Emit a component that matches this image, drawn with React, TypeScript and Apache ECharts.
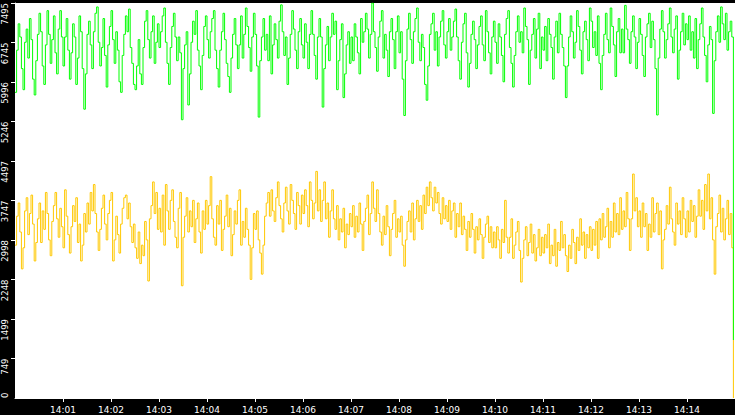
import React, { useEffect, useRef } from "react";
import * as echarts from "echarts";

// Sampling: one point every 2 seconds from 14:00:00 to 14:14:58
const startTime = Date.UTC(2024, 0, 1, 14, 0, 0);
const endTime = Date.UTC(2024, 0, 1, 14, 15, 0);
const sampleMs = 2000;

const yMax = 7495;
const yInterval = 749.5;

const greenValues = [
  5800, 6600, 7100, 6850, 6250, 5850, 6750, 7000, 6450, 7200, 6800, 6050, 5750, 6400, 6900, 7300, 6950, 6300, 5950, 6700, 7350, 6900, 6350, 6800, 7250, 6550, 6150, 7000, 7350, 6850,
  6300, 6850, 7200, 6600, 6050, 6550, 7100, 6850, 5950, 6450, 7250, 6950, 6250, 5480, 6150, 6900, 7150, 6700, 6250, 6950, 7300, 7420, 6750, 6300, 6650, 7200, 6500, 5900, 6700, 7050,
  7350, 6800, 6350, 6950, 6600, 6000, 5800, 6500, 6900, 7250, 6950, 7380, 6650, 6350, 5950, 5850, 6300, 6800, 6150, 5950, 6650, 7150, 7350, 6800, 6450, 6950, 7250, 6350, 6750, 7100,
  6650, 6950, 7250, 7400, 6750, 6350, 5950, 6650, 7050, 7300, 6850, 6400, 6850, 6550, 5280, 6250, 6700, 6950, 5560, 6150, 6750, 7150, 6900, 7350, 6600, 6300, 5850, 6500, 7050, 7250,
  6800, 6450, 6950, 7200, 7350, 6600, 6250, 5900, 6600, 6950, 7300, 6800, 6350, 6100, 5800, 6450, 6900, 7200, 6700, 6250, 6700, 7250, 6450, 6900, 7400, 7050, 6650, 6200, 6850, 7300,
  6900, 6300, 5330, 6400, 6850, 7200, 6600, 6900, 6400, 7250, 6150, 6700, 7100, 6800, 6450, 7150, 7460, 6950, 6500, 6850, 5950, 6450, 6900, 7350, 7000, 6600, 6250, 6950, 7200, 6700,
  6450, 7100, 6750, 6250, 6900, 7350, 6900, 6500, 6050, 6850, 7200, 6850, 5520, 6250, 6700, 7050, 6400, 6850, 7300, 6900, 7150, 5850, 6400, 6800, 7100, 5700, 6150, 6700, 6950, 6350,
  6850, 6400, 7100, 6850, 6550, 6150, 7200, 6750, 6950, 7300, 7000, 6450, 6900, 7495, 6950, 6650, 6200, 6850, 7150, 7350, 6450, 6900, 6600, 6100, 6950, 7200, 6800, 6250, 6950, 7250,
  6550, 6950, 6050, 5360, 6400, 7000, 7300, 6800, 6350, 6950, 7200, 7400, 6750, 6400, 6900, 6650, 5950, 5650, 6300, 6900, 7100, 7300, 6600, 6950, 6300, 6850, 7150, 7350, 6700, 6450,
  6950, 7200, 6600, 6850, 7150, 7380, 6850, 6400, 6050, 6750, 7100, 7300, 6550, 5900, 6350, 6900, 7150, 6800, 6250, 6700, 7050, 7250, 6700, 6400, 7350, 6950, 6550, 6150, 6850, 7150,
  6750, 6350, 7100, 6850, 6500, 6000, 6900, 7200, 7350, 6650, 6350, 5900, 6500, 6950, 7250, 6750, 6950, 6550, 7400, 7050, 6800, 5950, 6600, 6900, 7200, 6450, 7000, 7300, 6250, 6850,
  6600, 7050, 6400, 7200, 6900, 6650, 6050, 6850, 7150, 6550, 7300, 6900, 6650, 6300, 5700, 6300, 6850, 7250, 6950, 6450, 6750, 7350, 7050, 6600, 6150, 6950, 7150, 6800, 6400, 7400,
  7150, 6650, 6950, 6500, 7250, 6350, 5850, 6500, 6900, 7300, 6800, 6550, 7400, 7050, 6700, 6100, 6950, 7200, 6550, 7000, 6550, 7450, 7000, 6800, 6350, 6950, 7250, 6850, 6250, 6750,
  7200, 6900, 6500, 6100, 6850, 7100, 7300, 6650, 7150, 6800, 6250, 5370, 6450, 7000, 7350, 6950, 6450, 6800, 7100, 7400, 6850, 6550, 7000, 7250, 6050, 6600, 6950, 7300, 6700, 7100,
  6800, 7250, 6600, 6950, 6450, 7200, 6250, 6800, 7100, 7400, 6850, 6500, 6000, 6700, 7050, 6800, 5400, 6400, 6950, 7250, 6750, 7420, 7100, 6800, 7300, 6600, 6950, 7150, 6850, 1100,
];

const yellowValues = [
  2900, 3450, 3700, 3150, 2450, 2850, 3550, 3800, 3100, 3500, 3850, 3300, 2600, 2950, 3400, 3700, 2950, 3550, 3200, 3900, 3500, 3000, 2700, 3350, 3650, 3900, 3400, 3050, 3600, 3250,
  2850, 3950, 3450, 3100, 2750, 3250, 3650, 3350, 3800, 2950, 3300, 2600, 2900, 3500, 3150, 3700, 3300, 3900, 3550, 4050, 3500, 3150, 2800, 3200, 3600, 3850, 3300, 3000, 3500, 3750,
  3900, 2600, 3000, 3450, 3100, 2750, 3300, 3600, 3800, 3850, 3400, 3700, 3250, 2950, 3300, 2850, 2650, 3150, 2550, 2900, 2700, 3350, 3000, 2220, 3400, 3650, 4100, 3500, 3900, 3200,
  3600, 3150, 3850, 2900, 4050, 3550, 3200, 3750, 3950, 3350, 3050, 2850, 3600, 3900, 2130, 3050, 3450, 3800, 3150, 3550, 3250, 3750, 2950, 3400, 3700, 3150, 2750, 3550, 3200, 3750,
  3300, 3650, 4200, 3400, 3050, 2900, 3650, 3300, 3750, 2800, 3200, 3450, 3850, 3250, 3600, 2700, 3100, 3550, 3300, 3750, 3950, 2900, 3350, 3050, 3600, 3200, 2900, 2250, 2850, 3500,
  3200, 3550, 3000, 2750, 2350, 2900, 3450, 3700, 3900, 3450, 3950, 3550, 3350, 3800, 4100, 3650, 3400, 3150, 3700, 4000, 3550, 3300, 4050, 3750, 3500, 3200, 3900, 3650, 3300, 3850,
  3500, 3950, 3650, 3250, 4100, 3750, 3400, 3700, 4300, 3550, 3950, 3350, 3750, 4100, 3400, 3700, 3050, 3550, 3950, 3400, 3200, 3650, 3000, 3400, 3150, 3600, 2850, 3300, 3100, 3500,
  3250, 3650, 3050, 3450, 3150, 3700, 3300, 2800, 3350, 3600, 3850, 3100, 3500, 4100, 3600, 3350, 3950, 3500, 3150, 2900, 3450, 3100, 3650, 3250, 2700, 3200, 3500, 3750, 3050, 3400,
  3150, 3450, 2900, 2500, 3000, 3350, 3550, 3150, 3700, 3000, 3400, 3750, 3350, 3650, 3200, 3850, 3500, 4000, 3650, 4100, 3800, 3550, 4000, 3700, 3900, 3500, 3300, 3800, 3400, 3650,
  3350, 3750, 3200, 3550, 3700, 3050, 3500, 3250, 3700, 3100, 3450, 3200, 2800, 3350, 3050, 3500, 3200, 2750, 3250, 3000, 3400, 3100, 2650, 3050, 3300, 3450, 2950, 3250, 2850, 3150,
  2850, 3250, 3000, 2650, 3200, 2950, 3750, 3050, 2750, 3050, 3400, 2650, 2900, 3150, 3350, 2800, 2200, 2650, 3000, 3250, 2700, 2950, 3300, 2750, 3100, 2600, 2850, 3200, 2700, 3050,
  2750, 3100, 2850, 3300, 2550, 2900, 2700, 3200, 2500, 2950, 2800, 3350, 2850, 3100, 2700, 2400, 2900, 2650, 3200, 2950, 2550, 3050, 2800, 3400, 2900, 3150, 2650, 3100, 2850, 3250,
  2800, 3200, 2900, 3350, 2650, 3400, 3000, 3500, 3050, 3250, 3600, 2850, 3350, 3050, 3700, 3150, 3500, 3100, 3800, 3200, 3550, 3250, 3900, 3400, 2800, 3400, 4250, 3550, 3800, 3250,
  3550, 3050, 3700, 3250, 3500, 2800, 3300, 3050, 3800, 3150, 3500, 3700, 3100, 3550, 2450, 3000, 3200, 3650, 3300, 4000, 3400, 3150, 2900, 3700, 3300, 3550, 3100, 3800, 3400, 3050,
  3550, 3150, 3750, 3350, 3650, 3050, 3450, 3950, 3450, 3750, 3200, 4050, 3550, 4250, 3400, 3800, 3000, 2350, 3250, 3500, 3850, 3150, 3600, 3000, 3400, 3750, 3100, 3500, 2850, 0,
];

const pad2 = (n: number) => (n < 10 ? "0" + n : "" + n);
const fmtTime = (v: number) => {
  const d = new Date(v);
  return pad2(d.getUTCHours()) + ":" + pad2(d.getUTCMinutes());
};

const toPairs = (vals: number[]) => vals.map((v, i) => [startTime + i * sampleMs, v]);

export default function App() {
  const ref = useRef<HTMLDivElement>(null);
  useEffect(() => {
    if (!ref.current) return;
    const chart = echarts.init(ref.current, undefined, { renderer: "svg" });
    const font = "DejaVu Sans";
    const yLabelBase = {
      color: "#ffffff",
      fontFamily: font,
      fontSize: 8.5,
      rotate: 90,
      verticalAlign: "middle",
      margin: 10,
    };
    chart.setOption({
      animation: false,
      backgroundColor: "#000000",
      grid: {
        left: 15,
        right: 0,
        top: 0,
        bottom: 17,
        show: true,
        backgroundColor: "#ffffff",
        borderWidth: 0,
      },
      xAxis: {
        type: "value",
        min: startTime,
        max: endTime,
        interval: 60000,
        offset: 1,
        axisLine: { show: true, lineStyle: { color: "#ffffff", width: 1 } },
        axisTick: { show: true, length: 4, lineStyle: { color: "#ffffff" } },
        axisLabel: {
          color: "#ffffff",
          fontFamily: font,
          fontSize: 9,
          margin: 6,
          showMinLabel: false,
          showMaxLabel: false,
          formatter: (v: number) => fmtTime(v),
        },
        splitLine: { show: false },
      },
      yAxis: [
        {
          type: "value",
          min: 0,
          max: yMax,
          interval: yInterval,
          axisLine: { show: true, lineStyle: { color: "#ffffff", width: 1 } },
          axisTick: { show: true, length: 4, lineStyle: { color: "#ffffff" } },
          axisLabel: {
            ...yLabelBase,
            align: "right",
            showMinLabel: false,
            showMaxLabel: true,
            formatter: (v: number) => (v <= 0 ? "" : String(Math.floor(v))),
          },
          splitLine: { show: false },
        },
        {
          type: "value",
          position: "left",
          min: 0,
          max: yMax,
          interval: yInterval,
          axisLine: { show: false },
          axisTick: { show: false },
          axisLabel: {
            ...yLabelBase,
            align: "left",
            showMinLabel: true,
            showMaxLabel: false,
            formatter: (v: number) => (v <= 0 ? "0" : ""),
          },
          splitLine: { show: false },
        },
      ],
      series: [
        {
          type: "line",
          data: toPairs(yellowValues),
          step: "end",
          showSymbol: false,
          symbol: "none",
          lineStyle: { color: "#ffc800", width: 1 },
          itemStyle: { color: "#ffc800" },
          silent: true,
        },
        {
          type: "line",
          data: toPairs(greenValues),
          step: "end",
          showSymbol: false,
          symbol: "none",
          lineStyle: { color: "#00ff00", width: 1 },
          itemStyle: { color: "#00ff00" },
          silent: true,
        },
      ],
    });
    return () => chart.dispose();
  }, []);
  return (
    <div
      ref={ref}
      style={{ position: "fixed", left: 0, top: 0, width: 735, height: 415 }}
    />
  );
}
